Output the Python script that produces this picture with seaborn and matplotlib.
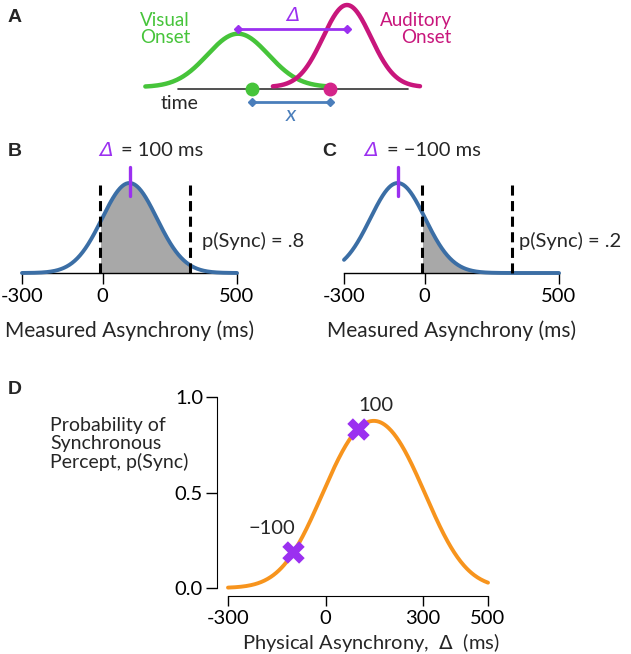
import math
import numpy as np
import pandas as pd
import seaborn as sns
import matplotlib.pyplot as plt

# ---- values ----
# panel A: two onset distributions on an arbitrary time scale
vis_mean, vis_sd, vis_peak = 0, 28, 0.65
aud_mean, aud_sd, aud_peak = 100, 22, 1.0
vis_span = (-85, 84)
aud_span = (32, 167)
time_span = (-55, 156)
vis_sample, aud_sample = 13, 84

# panels B and C: measured asynchrony for two physical asynchronies
deltas = [100, -100]
psync_text = ['.8', '.2']
meas_sd = 102
sync_window = [-8, 325]
asyn_range = (-300, 500)
asyn_ticks = [-300, 0, 500]
asyn_ticklabels = ['-300', '0', '500']

# panel D: p(Sync) as a function of physical asynchrony
d_window = [-8, 305]
d_xticks = [-300, 0, 300, 500]
d_xticklabels = ['-300', '0', '300', '500']
d_yticks = [0.0, 0.5, 1.0]
d_yticklabels = ['0.0', '0.5', '1.0']
marker_delta = [-100, 100]
marker_p = [0.19, 0.83]
marker_text = ['\u2212100', '100']

green = '#46C43A'
magenta = '#C8167C'
purple = '#9B30F0'
blue = '#3B6EA5'
xblue = '#4A7EBB'
orange = '#F7941D'
shade = '#A8A8A8'

sns.set_style('ticks')
plt.rcParams['font.family'] = ['Lato', 'DejaVu Sans']
plt.rcParams['font.size'] = 14.5
plt.rcParams['axes.edgecolor'] = 'black'
plt.rcParams['xtick.color'] = 'black'
plt.rcParams['ytick.color'] = 'black'

W, H = 631, 654
fig = plt.figure(figsize=(W / 100, H / 100), dpi=100)


def px_axes(x0, y0, x1, y1):
    return fig.add_axes([x0 / W, 1 - y1 / H, (x1 - x0) / W, (y1 - y0) / H])


def px_text(x, y, s, **kw):
    kw.setdefault('va', 'center')
    return fig.text(x / W, 1 - y / H, s, **kw)


def bump(x, mean, sd, peak=1.0):
    return peak * np.exp(-(x - mean) ** 2 / (2 * sd ** 2))


def phi(z):
    return 0.5 * (1 + np.vectorize(math.erf)(z / math.sqrt(2)))


letter_kw = dict(family='Liberation Sans', weight='bold', fontsize=14)

# ---------------- A ----------------
axa = px_axes(140, 0, 460, 130)
axa.set_xlim(-89.9, 203.7)
axa.set_ylim(-0.524, 1.061)
axa.axis('off')

tv = np.linspace(*vis_span, 200)
ta = np.linspace(*aud_span, 200)
axa.plot(time_span, [-0.03, -0.03], color='#333333', lw=1.2, zorder=1)
sns.lineplot(x=tv, y=bump(tv, vis_mean, vis_sd, vis_peak), ax=axa,
             color=green, lw=3.2, zorder=2)
sns.lineplot(x=ta, y=bump(ta, aud_mean, aud_sd, aud_peak), ax=axa,
             color=magenta, lw=3.2, zorder=3)
axa.plot([vis_sample], [-0.03], 'o', color=green, ms=9, zorder=4)
axa.plot([aud_sample], [-0.03], 'o', color='#D4258A', ms=9, zorder=4)
axa.plot([vis_sample, aud_sample], [-0.183, -0.183], color=xblue, lw=2,
         marker='D', ms=4, zorder=4)
axa.plot([vis_mean, aud_mean], [0.707, 0.707], color=purple, lw=2,
         marker='D', ms=4, zorder=5)
axa.text((vis_mean + aud_mean) / 2, 0.878, '\u0394', color=purple,
         style='italic', family='DejaVu Sans', fontsize=14, ha='center', va='center')
axa.text((vis_sample + aud_sample) / 2, -0.34, 'x', color=xblue,
         style='italic', fontsize=16, ha='center', va='center')
axa.text(-54, -0.195, 'time', ha='center', va='center', fontsize=14)
axa.text(-67, 0.707, 'Visual\nOnset', color=green, ha='center', va='center',
         fontsize=13.5, linespacing=1.05)
axa.text(196, 0.707, 'Auditory\nOnset', color=magenta, ha='right', va='center',
         multialignment='right', fontsize=13.5, linespacing=1.05)
px_text(15, 17, 'A', ha='center', **letter_kw)

# ---------------- B, C ----------------
xs = np.linspace(*asyn_range, 401)
panels = [
    dict(ax=(22, 237), letter=('B', 15), dlt=106, eq=121, ptx=202),
    dict(ax=(344, 559), letter=('C', 329), dlt=371, eq=387, ptx=519),
]
for p, delta, ptxt in zip(panels, deltas, psync_text):
    ax = px_axes(p['ax'][0], 140, p['ax'][1], 273)
    ax.set_xlim(*asyn_range)
    ax.set_ylim(0, 133 / 90)
    dens = bump(xs, delta, meas_sd)
    inside = (xs >= sync_window[0]) & (xs <= sync_window[1])
    ax.fill_between(xs[inside], 0, dens[inside], color=shade, lw=0, zorder=1)
    sns.lineplot(x=xs, y=dens, ax=ax, color=blue, lw=2.8, zorder=3, clip_on=False)
    for w in sync_window:
        ax.plot([w, w], [0, 0.978], color='black', lw=2.2,
                linestyle=(0, (3.3, 1.8)), zorder=4, clip_on=False)
    ax.plot([delta, delta], [0.856, 1.178], color=purple, lw=2.4, zorder=5)
    sns.despine(ax=ax, left=True)
    ax.set_yticks([])
    ax.set_xticks(asyn_ticks)
    ax.set_xticklabels(asyn_ticklabels)
    ax.tick_params(axis='x', length=8, width=1, pad=3, labelsize=14.5)
    ax.spines['bottom'].set_linewidth(1)
    ax.set_xlabel('Measured Asynchrony (ms)', fontsize=15, labelpad=11)

    px_text(p['letter'][1], 151, p['letter'][0], ha='center', **letter_kw)
    px_text(p['dlt'], 151, '\u0394', color=purple, style='italic',
            family='DejaVu Sans', fontsize=14.5, ha='center')
    px_text(p['eq'], 151, f'= {delta} ms'.replace('-', '\u2212'), ha='left')
    px_text(p['ptx'], 241, f'p(Sync) = {ptxt}', ha='left')

# ---------------- D ----------------
axd = px_axes(228, 397, 488, 588)
axd.set_xlim(*asyn_range)
axd.set_ylim(0, 1)
pd_curve = phi((d_window[1] - xs) / meas_sd) - phi((d_window[0] - xs) / meas_sd)
curve = pd.DataFrame({'delta': xs, 'psync': pd_curve})
sns.lineplot(data=curve, x='delta', y='psync', ax=axd, color=orange, lw=2.8,
             clip_on=False, zorder=2)
marks = pd.DataFrame({'delta': marker_delta, 'psync': marker_p})
sns.scatterplot(data=marks, x='delta', y='psync', ax=axd, marker='X', s=260,
                color=purple, linewidth=0, zorder=4, clip_on=False)
for dx, py, txt, off in zip(marker_delta, marker_p, marker_text,
                            [(-15, 16.5), (13, 17.5)]):
    axd.annotate(txt, (dx, py), xytext=off, textcoords='offset points',
                 ha='center', va='center')
sns.despine(ax=axd, offset={'left': 8, 'bottom': 6})
axd.spines['left'].set_bounds(0, 1)
axd.set_xticks(d_xticks)
axd.set_xticklabels(d_xticklabels)
axd.set_yticks(d_yticks)
axd.set_yticklabels(d_yticklabels)
axd.tick_params(axis='x', length=7, width=1, pad=3, labelsize=14.5)
axd.tick_params(axis='y', length=8, width=1, pad=2, labelsize=14.5)
axd.set_xlabel(r'Physical Asynchrony,  $\mathit{\Delta}$  (ms)', fontsize=14.5, labelpad=3)
axd.xaxis.label.set_x(0.55)
axd.set_ylabel('')
px_text(50, 444, 'Probability of\nSynchronous\nPercept, p(Sync)', ha='left',
        fontsize=14, linespacing=1.1)
px_text(15, 389, 'D', ha='center', **letter_kw)

fig.savefig('out.png', dpi=100)
